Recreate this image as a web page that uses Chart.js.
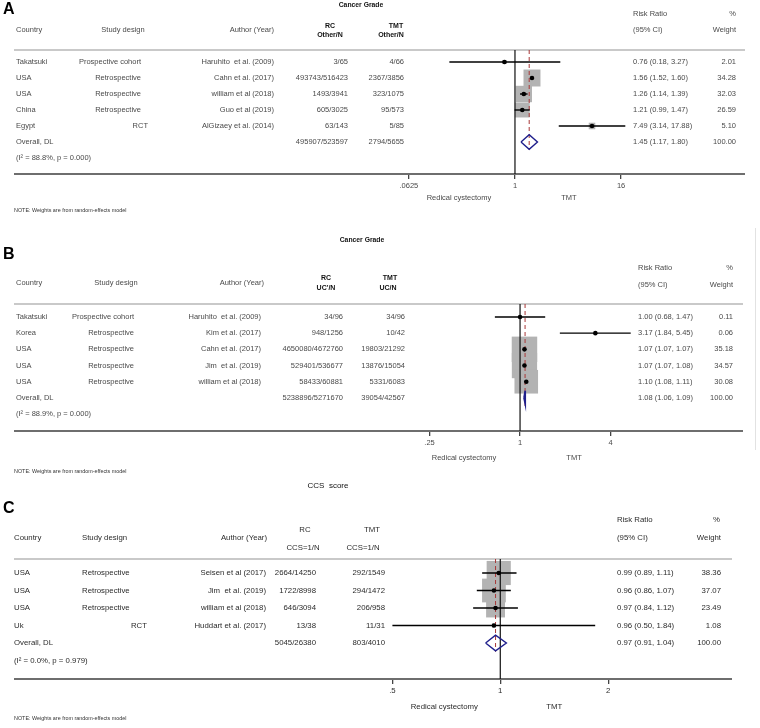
<!DOCTYPE html>
<html lang="en">
<head>
<meta charset="UTF-8">
<title>Forest plots - Radical cystectomy vs TMT</title>
<script src="https://cdn.jsdelivr.net/npm/chart.js"></script>
<style>
  body { margin: 0; background: #fff; }
  #wrap { position: relative; width: 760px; height: 728px; overflow: hidden; }
  .panel { position: absolute; left: 0; width: 760px; }
</style>
</head>
<body>
<div id="wrap">
  <div class="panel" style="top:0px"><canvas id="chartA" width="760" height="222"></canvas></div>
  <div class="panel" style="top:222px"><canvas id="chartB" width="760" height="254"></canvas></div>
  <div class="panel" style="top:476px"><canvas id="chartC" width="760" height="252"></canvas></div>
</div>
<script>
// ---- Panel A: cancer grade (Other/N) ----
const aCountry = ['Takatsuki', 'USA', 'USA', 'China', 'Egypt'];
const aDesign = ['Prospective cohort', 'Retrospective', 'Retrospective', 'Retrospective', 'RCT'];
const aAuthor = ['Haruhito  et al. (2009)', 'Cahn et al. (2017)', 'william et al (2018)', 'Guo et al (2019)', 'AlGizaey et al. (2014)'];
const aRC = ['3/65', '493743/516423', '1493/3941', '605/3025', '63/143'];
const aTMT = ['4/66', '2367/3856', '323/1075', '95/573', '5/85'];
const aRR = [0.76, 1.56, 1.26, 1.21, 7.49];
const aLo = [0.18, 1.52, 1.14, 0.99, 3.14];
const aHi = [3.27, 1.60, 1.39, 1.47, 17.88];
const aWeight = [2.01, 34.28, 32.03, 26.59, 5.10];
const aOverall = [1.45, 1.17, 1.80];
const aOverallCounts = ['495907/523597', '2794/5655'];
const aHet = '(I\u00B2 = 88.8%, p = 0.000)';
const aTicks = [0.0625, 1, 16];
const aTickLabels = ['.0625', '1', '16'];

// ---- Panel B: cancer grade (UC/N) ----
const bCountry = ['Takatsuki', 'Korea', 'USA', 'USA', 'USA'];
const bDesign = ['Prospective cohort', 'Retrospective', 'Retrospective', 'Retrospective', 'Retrospective'];
const bAuthor = ['Haruhito  et al. (2009)', 'Kim et al. (2017)', 'Cahn et al. (2017)', 'Jim  et al. (2019)', 'william et al (2018)'];
const bRC = ['34/96', '948/1256', '4650080/4672760', '529401/536677', '58433/60881'];
const bTMT = ['34/96', '10/42', '19803/21292', '13876/15054', '5331/6083'];
const bRR = [1.00, 3.17, 1.07, 1.07, 1.10];
const bLo = [0.68, 1.84, 1.07, 1.07, 1.08];
const bHi = [1.47, 5.45, 1.07, 1.08, 1.11];
const bWeight = [0.11, 0.06, 35.18, 34.57, 30.08];
const bOverall = [1.08, 1.06, 1.09];
const bOverallCounts = ['5238896/5271670', '39054/42567'];
const bHet = '(I\u00B2 = 88.9%, p = 0.000)';
const bTicks = [0.25, 1, 4];
const bTickLabels = ['.25', '1', '4'];

// ---- Panel C: CCS score ----
const cCountry = ['USA', 'USA', 'USA', 'Uk'];
const cDesign = ['Retrospective', 'Retrospective', 'Retrospective', 'RCT'];
const cAuthor = ['Seisen et al (2017)', 'Jim  et al. (2019)', 'william et al (2018)', 'Huddart et al. (2017)'];
const cRC = ['2664/14250', '1722/8998', '646/3094', '13/38'];
const cTMT = ['292/1549', '294/1472', '206/958', '11/31'];
const cRR = [0.99, 0.96, 0.97, 0.96];
const cLo = [0.89, 0.86, 0.84, 0.50];
const cHi = [1.11, 1.07, 1.12, 1.84];
const cWeight = [38.36, 37.07, 23.49, 1.08];
const cOverall = [0.97, 0.91, 1.04];
const cOverallCounts = ['5045/26380', '803/4010'];
const cHet = '(I\u00B2 = 0.0%, p = 0.979)';
const cTicks = [0.5, 1, 2];
const cTickLabels = ['.5', '1', '2'];

const FAM = '"Liberation Sans", Arial, Helvetica, sans-serif';
const NOTE = 'NOTE: Weights are from random-effects model';

Chart.defaults.animation = false;

function fmt(v) { return v.toFixed(2); }

function txt(c, s, x, y, align, font, color) {
    c.font = font;
    c.fillStyle = color;
    c.textAlign = align;
    c.textBaseline = 'middle';
    c.fillText(s, x, y);
}

function makePanel(id, d, L) {
    const n = d.rr.length;
    const overallRow = n + 1;
    const hetRow = n + 2;
    const [oRR, oLo, oHi] = d.overall;
    const studyPts = d.rr.map((v, i) => ({ x: v, y: i + 1 }));
    const h = 0.45;

    const ciSets = d.lo.map((lo, i) => ({
        data: [{ x: lo, y: i + 1 }, { x: d.hi[i], y: i + 1 }],
        showLine: true, borderColor: '#000', borderWidth: 1.4, pointRadius: 0, order: 6
    }));

    const datasets = [
        {   // weight boxes
            data: studyPts, pointStyle: 'rect',
            pointRadius: d.weight.map(w => L.box * Math.sqrt(w) / Math.SQRT2),
            backgroundColor: '#b3b3b3', borderWidth: 0, order: 10
        },
        {   // line of no effect
            data: [{ x: 1, y: L.yMin }, { x: 1, y: L.yMax }],
            showLine: true, borderColor: '#111', borderWidth: 1.2, pointRadius: 0, order: 8
        },
        {   // overall estimate
            data: [{ x: oRR, y: L.yMin }, { x: oRR, y: overallRow + 0.5 }],
            showLine: true, borderColor: '#a83838', borderWidth: 1, borderDash: [4, 3], pointRadius: 0, order: 7
        },
        ...ciSets,
        {   // point estimates
            data: studyPts, pointStyle: 'circle', pointRadius: 2.3,
            backgroundColor: '#000', borderWidth: 0, order: 4
        },
        {   // pooled diamond
            data: [
                { x: oLo, y: overallRow }, { x: oRR, y: overallRow - h },
                { x: oHi, y: overallRow }, { x: oRR, y: overallRow + h },
                { x: oLo, y: overallRow }
            ],
            showLine: true, borderColor: '#1f1f8c', borderWidth: 1.4, borderJoinStyle: 'miter',
            pointRadius: 0, order: 2
        }
    ];

    const body = L.fontSize + 'px ' + FAM;
    const bold = 'bold ' + L.headSize + 'px ' + FAM;

    const tablePlugin = {
        id: 'table' + id,
        beforeDatasetsDraw(chart) {
            const c = chart.ctx;
            const a = chart.chartArea;
            c.save();
            c.lineWidth = 2;
            c.strokeStyle = '#c9c9c9';
            c.beginPath(); c.moveTo(14, a.top); c.lineTo(L.ruleR, a.top); c.stroke();
            c.strokeStyle = '#6e6e6e';
            c.beginPath(); c.moveTo(14, a.bottom); c.lineTo(L.ruleR, a.bottom); c.stroke();
            if (L.edge) {
                c.lineWidth = 1;
                c.strokeStyle = '#e2e2e2';
                c.beginPath(); c.moveTo(755.5, L.edge[0]); c.lineTo(755.5, L.edge[1]); c.stroke();
            }
            c.restore();
        },
        afterDraw(chart) {
            const c = chart.ctx;
            const ys = chart.scales.y;
            const xs = chart.scales.x;
            const col = L.col;
            const tc = L.color;
            c.save();

            txt(c, L.letter, 3, L.letterY, 'left', 'bold 16px ' + FAM, '#000');
            txt(c, d.title, L.titleX, L.titleY, 'center', L.titleFont, '#111');

            L.headers.forEach(hd => {
                txt(c, hd[0], hd[1], hd[2], hd[3], hd[4] ? bold : body, hd[4] ? '#111' : tc);
            });

            for (let i = 0; i < n; i++) {
                const y = ys.getPixelForValue(i + 1);
                txt(c, d.country[i], col.country, y, 'left', body, tc);
                if (d.design[i] === 'RCT') {
                    txt(c, d.design[i], col.rct, y, 'right', body, tc);
                } else {
                    txt(c, d.design[i], col.design, y, L.designAlign, body, tc);
                }
                txt(c, d.author[i], col.author, y, 'right', body, tc);
                txt(c, d.rc[i], col.rc, y, 'right', body, tc);
                txt(c, d.tmt[i], col.tmt, y, 'right', body, tc);
                txt(c, fmt(d.rr[i]) + ' (' + fmt(d.lo[i]) + ', ' + fmt(d.hi[i]) + ')', col.rr, y, 'left', body, tc);
                txt(c, fmt(d.weight[i]), col.weight, y, 'right', body, tc);
            }

            const yo = ys.getPixelForValue(overallRow);
            txt(c, 'Overall, DL', col.country, yo, 'left', body, tc);
            txt(c, d.overallCounts[0], col.rc, yo, 'right', body, tc);
            txt(c, d.overallCounts[1], col.tmt, yo, 'right', body, tc);
            txt(c, fmt(oRR) + ' (' + fmt(oLo) + ', ' + fmt(oHi) + ')', col.rr, yo, 'left', body, tc);
            txt(c, '100.00', col.weight, yo, 'right', body, tc);
            txt(c, d.het, col.country, ys.getPixelForValue(hetRow), 'left', body, tc);

            const p1 = xs.getPixelForValue(1);
            txt(c, 'Redical cystectomy', p1 - 56, L.sideY, 'center', body, tc);
            txt(c, 'TMT', p1 + 54, L.sideY, 'center', body, tc);

            txt(c, NOTE, 14, L.noteY, 'left', '5.4px ' + FAM, '#333');
            c.restore();
        }
    };

    return new Chart(document.getElementById(id), {
        type: 'scatter',
        data: { datasets: datasets },
        options: {
            responsive: false,
            events: [],
            layout: { padding: { left: L.left, right: 760 - L.right, top: L.top, bottom: L.height - L.bottom - 20 } },
            plugins: { legend: { display: false }, tooltip: { enabled: false } },
            scales: {
                x: {
                    type: 'logarithmic', bounds: 'data', min: L.xMin, max: L.xMax,
                    afterBuildTicks: s => { s.ticks = d.ticks.map(v => ({ value: v })); },
                    afterFit: s => { s.height = 20; },
                    ticks: {
                        autoSkip: false, maxRotation: 0, padding: 2, color: L.color,
                        font: { family: FAM, size: L.fontSize },
                        callback: (v, i) => d.tickLabels[i]
                    },
                    grid: { drawOnChartArea: false, drawTicks: true, tickLength: 5, color: '#444', lineWidth: 1.3 },
                    border: { display: false }
                },
                y: { type: 'linear', display: false, reverse: true, bounds: 'data', min: L.yMin, max: L.yMax }
            }
        },
        plugins: [tablePlugin]
    });
}

makePanel('chartA', {
    title: 'Cancer Grade', country: aCountry, design: aDesign, author: aAuthor, rc: aRC, tmt: aTMT,
    rr: aRR, lo: aLo, hi: aHi, weight: aWeight, overall: aOverall, overallCounts: aOverallCounts,
    het: aHet, ticks: aTicks, tickLabels: aTickLabels
}, {
    height: 222, left: 404, right: 632, top: 50, bottom: 174,
    xMin: 0.055, xMax: 21.3, yMin: 0.25, yMax: 8, box: 2.9,
    fontSize: 7.5, headSize: 7, color: '#4a4a4a', ruleR: 745,
    letter: 'A', letterY: 10, titleX: 361, titleY: 5, titleFont: 'bold 6.8px ' + FAM,
    designAlign: 'right', sideY: 198, noteY: 211,
    col: { country: 16, design: 141, rct: 148, author: 274, rc: 348, tmt: 404, rr: 633, weight: 736 },
    headers: [
        ['Country', 16, 30, 'left'], ['Study design', 123, 30, 'center'], ['Author (Year)', 274, 30, 'right'],
        ['RC', 330, 26, 'center', true], ['Other/N', 330, 35, 'center', true],
        ['TMT', 396, 26, 'center', true], ['Other/N', 391, 35, 'center', true],
        ['Risk Ratio', 633, 14, 'left'], ['(95% CI)', 633, 30, 'left'],
        ['%', 736, 14, 'right'], ['Weight', 736, 30, 'right']
    ]
});

makePanel('chartB', {
    title: 'Cancer Grade', country: bCountry, design: bDesign, author: bAuthor, rc: bRC, tmt: bTMT,
    rr: bRR, lo: bLo, hi: bHi, weight: bWeight, overall: bOverall, overallCounts: bOverallCounts,
    het: bHet, ticks: bTicks, tickLabels: bTickLabels
}, {
    height: 254, left: 415, right: 637, top: 82, bottom: 209,
    xMin: 0.2, xMax: 6, yMin: 0.2, yMax: 8.04, box: 4.3,
    fontSize: 7.5, headSize: 7, color: '#4a4a4a', ruleR: 743,
    letter: 'B', letterY: 33, titleX: 362, titleY: 18, titleFont: 'bold 6.8px ' + FAM,
    designAlign: 'right', sideY: 236, noteY: 250, edge: [6, 228],
    col: { country: 16, design: 134, rct: 141, author: 261, rc: 343, tmt: 405, rr: 638, weight: 733 },
    headers: [
        ['Country', 16, 61, 'left'], ['Study design', 116, 61, 'center'], ['Author (Year)', 264, 61, 'right'],
        ['RC', 326, 56, 'center', true], ['UC\'/N', 326, 66, 'center', true],
        ['TMT', 390, 56, 'center', true], ['UC/N', 388, 66, 'center', true],
        ['Risk Ratio', 638, 46, 'left'], ['(95% CI)', 638, 63, 'left'],
        ['%', 733, 46, 'right'], ['Weight', 733, 63, 'right']
    ]
});

makePanel('chartC', {
    title: 'CCS  score', country: cCountry, design: cDesign, author: cAuthor, rc: cRC, tmt: cTMT,
    rr: cRR, lo: cLo, hi: cHi, weight: cWeight, overall: cOverall, overallCounts: cOverallCounts,
    het: cHet, ticks: cTicks, tickLabels: cTickLabels
}, {
    height: 252, left: 376, right: 623, top: 83, bottom: 203,
    xMin: 0.45, xMax: 2.2, yMin: 0.2, yMax: 7.057, box: 3.9,
    fontSize: 7.8, headSize: 7.8, color: '#2b2b2b', ruleR: 732,
    letter: 'C', letterY: 33, titleX: 328, titleY: 10, titleFont: '8px ' + FAM,
    designAlign: 'left', sideY: 231, noteY: 243,
    col: { country: 14, design: 82, rct: 147, author: 266, rc: 316, tmt: 385, rr: 617, weight: 721 },
    headers: [
        ['Country', 14, 62, 'left'], ['Study design', 82, 62, 'left'], ['Author (Year)', 267, 62, 'right'],
        ['RC', 305, 54, 'center'], ['CCS=1/N', 303, 72, 'center'],
        ['TMT', 372, 54, 'center'], ['CCS=1/N', 363, 72, 'center'],
        ['Risk Ratio', 617, 44, 'left'], ['(95% CI)', 617, 62, 'left'],
        ['%', 720, 44, 'right'], ['Weight', 721, 62, 'right']
    ]
});
</script>
</body>
</html>
